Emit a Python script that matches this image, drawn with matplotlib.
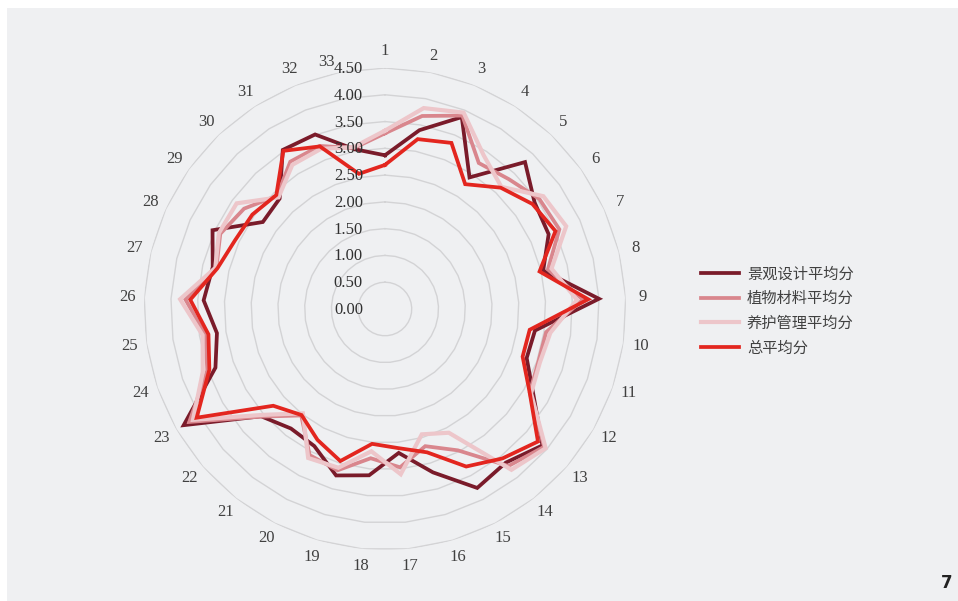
import numpy as np
import matplotlib.pyplot as plt
from matplotlib.patches import Rectangle

plt.rcParams['font.family'] = ['Noto Sans CJK SC', 'DejaVu Sans']

# 33 项评价指标，四组平均分
items = [str(i) for i in range(1, 34)]
design = [2.87, 3.40, 3.86, 2.92, 3.79, 3.43, 3.36, 3.04, 4.00, 2.83, 2.80, 3.20, 3.89,
          3.65, 3.76, 3.18, 2.70, 3.12, 3.24, 2.88, 2.84, 3.06, 4.34, 3.35, 3.17, 3.39,
          3.31, 3.54, 2.80, 2.85, 3.53, 3.51, 3.04]
plant = [3.28, 3.67, 3.89, 3.24, 3.35, 3.54, 3.58, 3.13, 3.70, 3.04, 3.03, 3.12, 3.93,
         3.73, 2.97, 2.67, 2.97, 2.80, 3.14, 3.07, 2.53, 3.07, 4.22, 3.51, 3.39, 3.73,
         3.24, 3.38, 3.23, 2.92, 3.27, 3.28, 3.06]
care = [3.33, 3.82, 3.95, 3.41, 3.15, 3.63, 3.72, 3.20, 3.59, 3.12, 3.06, 3.15, 3.97,
        3.82, 2.60, 2.44, 3.10, 2.67, 3.09, 3.13, 2.48, 3.02, 4.14, 3.60, 3.44, 3.83,
        3.26, 3.41, 3.40, 2.88, 3.20, 3.22, 3.08]
total = [2.69, 3.23, 3.34, 2.77, 3.13, 3.38, 3.50, 2.97, 3.80, 2.73, 2.72, 3.12, 3.78,
         3.55, 3.31, 2.79, 2.61, 2.53, 2.96, 2.75, 2.52, 2.76, 4.06, 3.47, 3.33, 3.64,
         3.22, 3.08, 3.04, 2.94, 3.51, 3.27, 2.57]

series_names = ['景观设计平均分', '植物材料平均分', '养护管理平均分', '总平均分']
series_colors = ['#7a1b2a', '#d9868d', '#edc6ca', '#e3261f']
levels = np.arange(0, 4.51, 0.5)

fig = plt.figure(figsize=(9.58, 6.01), dpi=100)
fig.patch.set_facecolor('white')
fig.patches.append(Rectangle((7 / 958, 0), 1, 1 - 8 / 601, transform=fig.transFigure,
                             facecolor='#eff0f2', edgecolor='none', zorder=-10))

ax = fig.add_axes([0.1503, 0.0849, 0.5031, 0.802], projection='polar')
ax.set_facecolor('none')
ax.set_theta_zero_location('N')
ax.set_theta_direction(-1)
ax.set_ylim(0, 4.5)
ax.set_xticks([])
ax.set_yticks([])
ax.grid(False)
ax.spines['polar'].set_visible(False)

theta = np.arange(len(items)) * 2 * np.pi / len(items)
theta_c = np.append(theta, theta[0])

# 多边形网格
for lv in levels[1:]:
    ax.plot(theta_c, [lv] * len(theta_c), color='#d3d3d5', lw=1, zorder=1)

handles = []
for vals, name, col in zip([design, plant, care, total], series_names, series_colors):
    v = np.append(vals, vals[0])
    lw = 3.0 if col == '#edc6ca' else 2.7
    ln, = ax.plot(theta_c, v, color=col, lw=lw, label=name, zorder=3,
                  solid_joinstyle='miter')
    handles.append(ln)

# 最后一个类目标签让开刻度值，往左下挪一点
for t, lab in zip(theta, items):
    off = (-10, -6) if lab == items[-1] else (0, 0)
    ax.annotate(lab, xy=(t, 4.82), xytext=off, textcoords='offset pixels',
                ha='center', va='center', fontsize=12, annotation_clip=False,
                family='Liberation Serif', color='#404040')

for lv in levels:
    ax.annotate(f'{lv:.2f}', xy=(0, lv), xytext=(-22, -1), textcoords='offset pixels',
                ha='right', va='center', fontsize=12, family='Liberation Serif',
                color='#303030', zorder=4, annotation_clip=False)

fig.legend(handles=handles, loc='center left', bbox_to_anchor=(701 / 958, 1 - 311 / 601),
           frameon=False, fontsize=11, handlelength=2.5, handletextpad=0.5,
           labelspacing=0.5, borderpad=0, borderaxespad=0, labelcolor='#404040')

fig.text(947 / 958, 1 - 583 / 601, '7', fontsize=12, fontweight='bold',
         family='DejaVu Sans', ha='center', va='center', color='#222222')

fig.savefig('out.png', dpi=100)
